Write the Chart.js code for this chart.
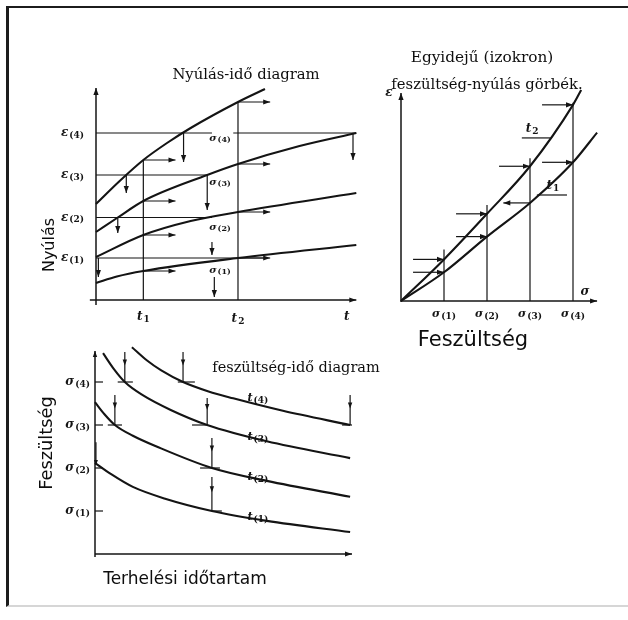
<!DOCTYPE html>
<html lang="hu">
<head>
<meta charset="utf-8">
<title>Kúszás: nyúlás, feszültség, idő</title>
<script src="https://cdn.jsdelivr.net/npm/chart.js@4.4.1/dist/chart.umd.min.js"></script>
<style>
  html, body { margin: 0; padding: 0; background: #fff; }
  #page { position: relative; width: 628px; height: 620px; overflow: hidden; }
  #frame { position: absolute; left: 6px; top: 6px; width: 640px; height: 597px;
           border-top: 2.5px solid #1c1c1c; border-left: 3px solid #1c1c1c; border-bottom: 2px solid #d6d6d6; }
  canvas { position: absolute; }
  .lbl { position: absolute; transform: translate(-50%, -50%); white-space: nowrap; color: #0e0e0e; }
  .serif { font-family: 'DejaVu Serif', serif; font-size: 14.5px; }
  .sans { font-family: 'DejaVu Sans', sans-serif; }
  .rot { transform: translate(-50%, -50%) rotate(-90deg); }
</style>
</head>
<body>
<div id="page">
  <div id="frame"></div>
  <canvas id="creep" width="370" height="330" style="left:0;top:0"></canvas>
  <canvas id="iso" width="258" height="330" style="left:370px;top:30px"></canvas>
  <canvas id="relax" width="370" height="290" style="left:0;top:330px"></canvas>

  <div class="lbl serif" style="left:246px;top:73px;font-size:14.8px">Nyúlás-idő diagram</div>
  <div class="lbl serif" style="left:482px;top:57px;font-size:15.3px">Egyidejű (izokron)</div>
  <div class="lbl serif" style="left:487px;top:83px;font-size:14.8px">feszültség-nyúlás görbék.</div>
  <div class="lbl serif" style="left:296px;top:367px;font-size:14.5px">feszültség-idő diagram</div>
  <div class="lbl sans rot" style="left:48px;top:245px;font-size:16px">Nyúlás</div>
  <div class="lbl sans" style="left:473px;top:339px;font-size:21px">Feszültség</div>
  <div class="lbl sans rot" style="left:45px;top:443px;font-size:17.8px">Feszültség</div>
  <div class="lbl sans" style="left:185px;top:578px;font-size:17px">Terhelési időtartam</div>
</div>

<script>
// time marks and load levels
const t1 = 1;
const t2 = 3;
const sigmaLevels = [1, 2, 3, 4];
const epsLevels = [4.2, 8.25, 12.5, 16.7];

// creep curves, strain vs time, one per stress level
const creep1T = [0, 0.44, 1, 3, 5.5];
const creep1Eps = [1.7, 2.35, 2.9, 4.2, 5.5];
const creep2T = [0, 1, 2, 3, 5.5];
const creep2Eps = [4.3, 6.5, 7.9, 8.8, 10.7];
const creep3T = [0, 0.46, 1, 2.35, 3, 4.3, 5.5];
const creep3Eps = [6.8, 8.25, 9.9, 12.5, 13.6, 15.4, 16.7];
const creep4T = [0, 0.5, 1, 1.5, 2, 3, 3.57];
const creep4Eps = [9.6, 11.9, 14.0, 15.7, 17.2, 19.8, 21.1];

const creepT = [creep1T, creep2T, creep3T, creep4T];
const creepEps = [creep1Eps, creep2Eps, creep3Eps, creep4Eps];
const epsAt = t => creepT.map((ts, k) => creepEps[k][ts.indexOf(t)]);
const epsAtT1 = epsAt(t1);
const epsAtT2 = epsAt(t2);

// isochronous curves built from the creep values at t1 and t2
const isoSigma1 = [0, ...sigmaLevels, 4.56];
const isoEps1 = [0, ...epsAtT1, 17.0];
const isoSigma2 = [0, ...sigmaLevels, 4.19];
const isoEps2 = [0, ...epsAtT2, 21.3];
const isoTop = [5.2, 9.7, 14.4, 20.0];

// relaxation curves, stress vs load duration
const relax1T = [0, 0.35, 0.8, 1.5, 2.47, 3.63, 5.39];
const relax1Sig = [2.12, 1.85, 1.56, 1.28, 1.0, 0.77, 0.51];
const relax2T = [0, 0.2, 0.42, 0.8, 1.3, 2.47, 3.63, 5.39];
const relax2Sig = [3.53, 3.25, 3.0, 2.75, 2.5, 2.0, 1.7, 1.33];
const relax3T = [0.17, 0.4, 0.63, 1.0, 1.6, 2.37, 3.63, 5.39];
const relax3Sig = [4.67, 4.3, 4.0, 3.7, 3.35, 3.0, 2.62, 2.23];
const relax4T = [0.78, 1.1, 1.4, 1.86, 2.4, 2.92, 3.97, 5.39];
const relax4Sig = [4.81, 4.5, 4.27, 4.0, 3.78, 3.62, 3.33, 3.0];

const INK = '#141414';

function curve(xs, ys, width = 2.1) {
    return {
        data: xs.map((x, i) => ({ x, y: ys[i] })),
        showLine: true,
        borderColor: INK,
        borderWidth: width,
        pointRadius: 0,
        cubicInterpolationMode: 'monotone',
        clip: false
    };
}

function seg(ctx, x1, y1, x2, y2) {
    ctx.beginPath();
    ctx.moveTo(x1, y1);
    ctx.lineTo(x2, y2);
    ctx.stroke();
}

function head(ctx, x1, y1, x2, y2, len = 7, half = 2.6) {
    const a = Math.atan2(y2 - y1, x2 - x1);
    const c = Math.cos(a), s = Math.sin(a);
    ctx.beginPath();
    ctx.moveTo(x2, y2);
    ctx.lineTo(x2 - len * c + half * s, y2 - len * s - half * c);
    ctx.lineTo(x2 - len * c - half * s, y2 - len * s + half * c);
    ctx.closePath();
    ctx.fill();
}

function arrow(ctx, x1, y1, x2, y2, len, half) {
    seg(ctx, x1, y1, x2, y2);
    head(ctx, x1, y1, x2, y2, len, half);
}

// letter with a small lowered index, e.g. ε(4)
function subText(ctx, base, sub, x, y, align = 'center', size = 12) {
    const fBase = `italic bold ${size}px 'DejaVu Serif', serif`;
    const fSub = `bold ${Math.round(size * 0.78)}px 'DejaVu Serif', serif`;
    ctx.font = fBase;
    const wb = ctx.measureText(base).width;
    ctx.font = fSub;
    const ws = ctx.measureText(sub).width;
    const w = wb + ws + 1;
    let x0 = x - w / 2;
    if (align === 'right') x0 = x - w;
    if (align === 'left') x0 = x;
    ctx.textAlign = 'left';
    ctx.textBaseline = 'middle';
    ctx.font = fBase;
    ctx.fillText(base, x0, y);
    ctx.font = fSub;
    ctx.fillText(sub, x0 + wb + 1, y + size * 0.22);
}

function decor(draw) {
    return {
        id: 'decor',
        afterDatasetsDraw(chart) {
            const xs = chart.scales.x, ys = chart.scales.y;
            const ctx = chart.ctx;
            ctx.save();
            ctx.strokeStyle = INK;
            ctx.fillStyle = INK;
            ctx.lineWidth = 1.3;
            draw(ctx, v => xs.getPixelForValue(v), v => ys.getPixelForValue(v));
            ctx.restore();
        }
    };
}

function makeChart(id, datasets, area, xRange, yRange, plugin) {
    const cv = document.getElementById(id);
    return new Chart(cv, {
        type: 'scatter',
        data: { datasets },
        options: {
            responsive: false,
            animation: false,
            events: [],
            layout: {
                padding: { left: area.left, top: area.top, right: cv.width - area.right, bottom: cv.height - area.bottom }
            },
            scales: {
                x: { type: 'linear', display: false, min: xRange[0], max: xRange[1] },
                y: { type: 'linear', display: false, min: yRange[0], max: yRange[1] }
            },
            plugins: { legend: { display: false }, tooltip: { enabled: false } }
        },
        plugins: [plugin]
    });
}

// Nyúlás-idő diagram
makeChart('creep',
    creepT.map((ts, k) => curve(ts, creepEps[k])),
    { left: 96, right: 361.05, top: 88, bottom: 300 }, [0, 5.6], [0, 21.2],
    decor((ctx, X, Y) => {
        ctx.lineWidth = 1.5;
        arrow(ctx, X(-0.13), Y(0), X(5.5), Y(0));
        arrow(ctx, X(0), Y(-0.5), X(0), Y(21.2));
        ctx.lineWidth = 1.2;
        // time marks up to the top curve
        seg(ctx, X(t1), Y(0), X(t1), Y(epsAtT1[3]));
        seg(ctx, X(t2), Y(0), X(t2), Y(epsAtT2[3]));
        // constant strain levels
        seg(ctx, X(0), Y(epsLevels[3]), X(2.45), Y(epsLevels[3]));
        seg(ctx, X(2.9), Y(epsLevels[3]), X(5.5), Y(epsLevels[3]));
        seg(ctx, X(0), Y(epsLevels[2]), X(2.35), Y(epsLevels[2]));
        seg(ctx, X(0), Y(epsLevels[1]), X(2.45), Y(epsLevels[1]));
        seg(ctx, X(0), Y(epsLevels[0]), X(3.55), Y(epsLevels[0]));
        // readings at t1 and t2
        epsAtT1.forEach(e => arrow(ctx, X(t1), Y(e), X(t1 + 0.68), Y(e)));
        epsAtT2.forEach(e => arrow(ctx, X(t2), Y(e), X(t2 + 0.68), Y(e)));
        // drops from the strain levels
        arrow(ctx, X(0.64), Y(12.5), X(0.64), Y(10.7));
        arrow(ctx, X(1.85), Y(16.7), X(1.85), Y(13.8));
        arrow(ctx, X(5.43), Y(16.7), X(5.43), Y(14.0));
        arrow(ctx, X(0.46), Y(8.25), X(0.46), Y(6.7));
        arrow(ctx, X(2.35), Y(12.5), X(2.35), Y(9.0));
        arrow(ctx, X(2.45), Y(5.8), X(2.45), Y(4.5));
        arrow(ctx, X(0.05), Y(4.2), X(0.05), Y(2.3));
        arrow(ctx, X(2.5), Y(2.3), X(2.5), Y(0.3));
        // labels
        epsLevels.forEach((e, k) => subText(ctx, 'ε', `(${k + 1})`, X(0) - 12, Y(e), 'right', 12));
        const sigLab = [3.0, 7.3, 11.8, 16.2];
        sigLab.forEach((v, k) => subText(ctx, 'σ', `(${k + 1})`, X(2.62), Y(v), 'center', 10));
        subText(ctx, 't', '1', X(t1), Y(0) + 17, 'center', 12);
        subText(ctx, 't', '2', X(t2), Y(0) + 19, 'center', 12);
        ctx.font = "italic bold 12px 'DejaVu Serif', serif";
        ctx.textAlign = 'center';
        ctx.fillText('t', X(5.3), Y(0) + 17);
    }));

// izokron görbék
makeChart('iso',
    [curve(isoSigma1, isoEps1), curve(isoSigma2, isoEps2)],
    { left: 31, right: 246, top: 58, bottom: 271 }, [0, 5], [0, 21.5],
    decor((ctx, X, Y) => {
        ctx.lineWidth = 1.5;
        arrow(ctx, X(0), Y(0), X(4.56), Y(0));
        arrow(ctx, X(0), Y(-0.1), X(0), Y(21.0));
        ctx.lineWidth = 1.2;
        sigmaLevels.forEach((s, k) => {
            seg(ctx, X(s), Y(0), X(s), Y(isoTop[k]));
            arrow(ctx, X(s - 0.72), Y(epsAtT2[k]), X(s), Y(epsAtT2[k]));
            if (k === 2) {
                arrow(ctx, X(s), Y(epsAtT1[k]), X(s - 0.62), Y(epsAtT1[k]));
            } else {
                arrow(ctx, X(s - 0.72), Y(epsAtT1[k]), X(s), Y(epsAtT1[k]));
            }
            subText(ctx, 'σ', `(${k + 1})`, X(s), Y(0) + 13, 'center', 11);
        });
        // curve names with leaders
        seg(ctx, X(2.81), Y(16.46), X(3.47), Y(16.46));
        subText(ctx, 't', '2', X(3.05), Y(17.4), 'center', 12);
        seg(ctx, X(3.16), Y(10.7), X(3.86), Y(10.7));
        subText(ctx, 't', '1', X(3.53), Y(11.6), 'center', 12);
        ctx.font = "italic bold 12px 'DejaVu Serif', serif";
        ctx.textAlign = 'center';
        ctx.textBaseline = 'middle';
        ctx.fillText('ε', X(0) - 12, Y(21.0));
        ctx.fillText('σ', X(4.28), Y(0) - 9);
    }));

// feszültség-idő diagram
const relaxT = [relax1T, relax2T, relax3T, relax4T];
const relaxSig = [relax1Sig, relax2Sig, relax3Sig, relax4Sig];
makeChart('relax',
    relaxT.map((ts, k) => curve(ts, relaxSig[k])),
    { left: 95, right: 360.05, top: 17.6, bottom: 224 }, [0, 5.6], [0, 4.8],
    decor((ctx, X, Y) => {
        ctx.lineWidth = 1.5;
        arrow(ctx, X(0), Y(0), X(5.43), Y(0));
        arrow(ctx, X(0), Y(-0.07), X(0), Y(4.72), 6, 2.2);
        ctx.lineWidth = 1.2;
        sigmaLevels.forEach((s, k) => {
            seg(ctx, X(0), Y(s), X(0.17), Y(s));
            subText(ctx, 'σ', `(${k + 1})`, X(0) - 5, Y(s), 'right', 12);
        });
        // where each curve meets a stress level
        const marks = [
            [0.63, 4, 4.7, 0.48, 0.8],
            [1.86, 4, 4.7, 1.75, 2.11],
            [0.42, 3, 3.7, 0.27, 0.57],
            [2.37, 3, 3.63, 2.05, 2.37],
            [2.47, 2, 2.7, 2.22, 2.64],
            [2.47, 1, 1.79, 2.47, 2.68],
            [5.39, 3, 3.7, 5.22, 5.43]
        ];
        marks.forEach(([t, s, top, a, b]) => {
            seg(ctx, X(t), Y(top), X(t), Y(s));
            const mid = top - (top - s) * 0.45;
            head(ctx, X(t), Y(top), X(t), Y(mid), 6, 2.2);
            seg(ctx, X(a), Y(s), X(b), Y(s));
        });
        arrow(ctx, X(0.02), Y(2.6), X(0.02), Y(2.07), 5, 2);
        const tLab = [0.86, 1.79, 2.72, 3.63];
        tLab.forEach((v, k) => subText(ctx, 't', `(${k + 1})`, X(3.44), Y(v), 'center', 11));
    }));
</script>
</body>
</html>
